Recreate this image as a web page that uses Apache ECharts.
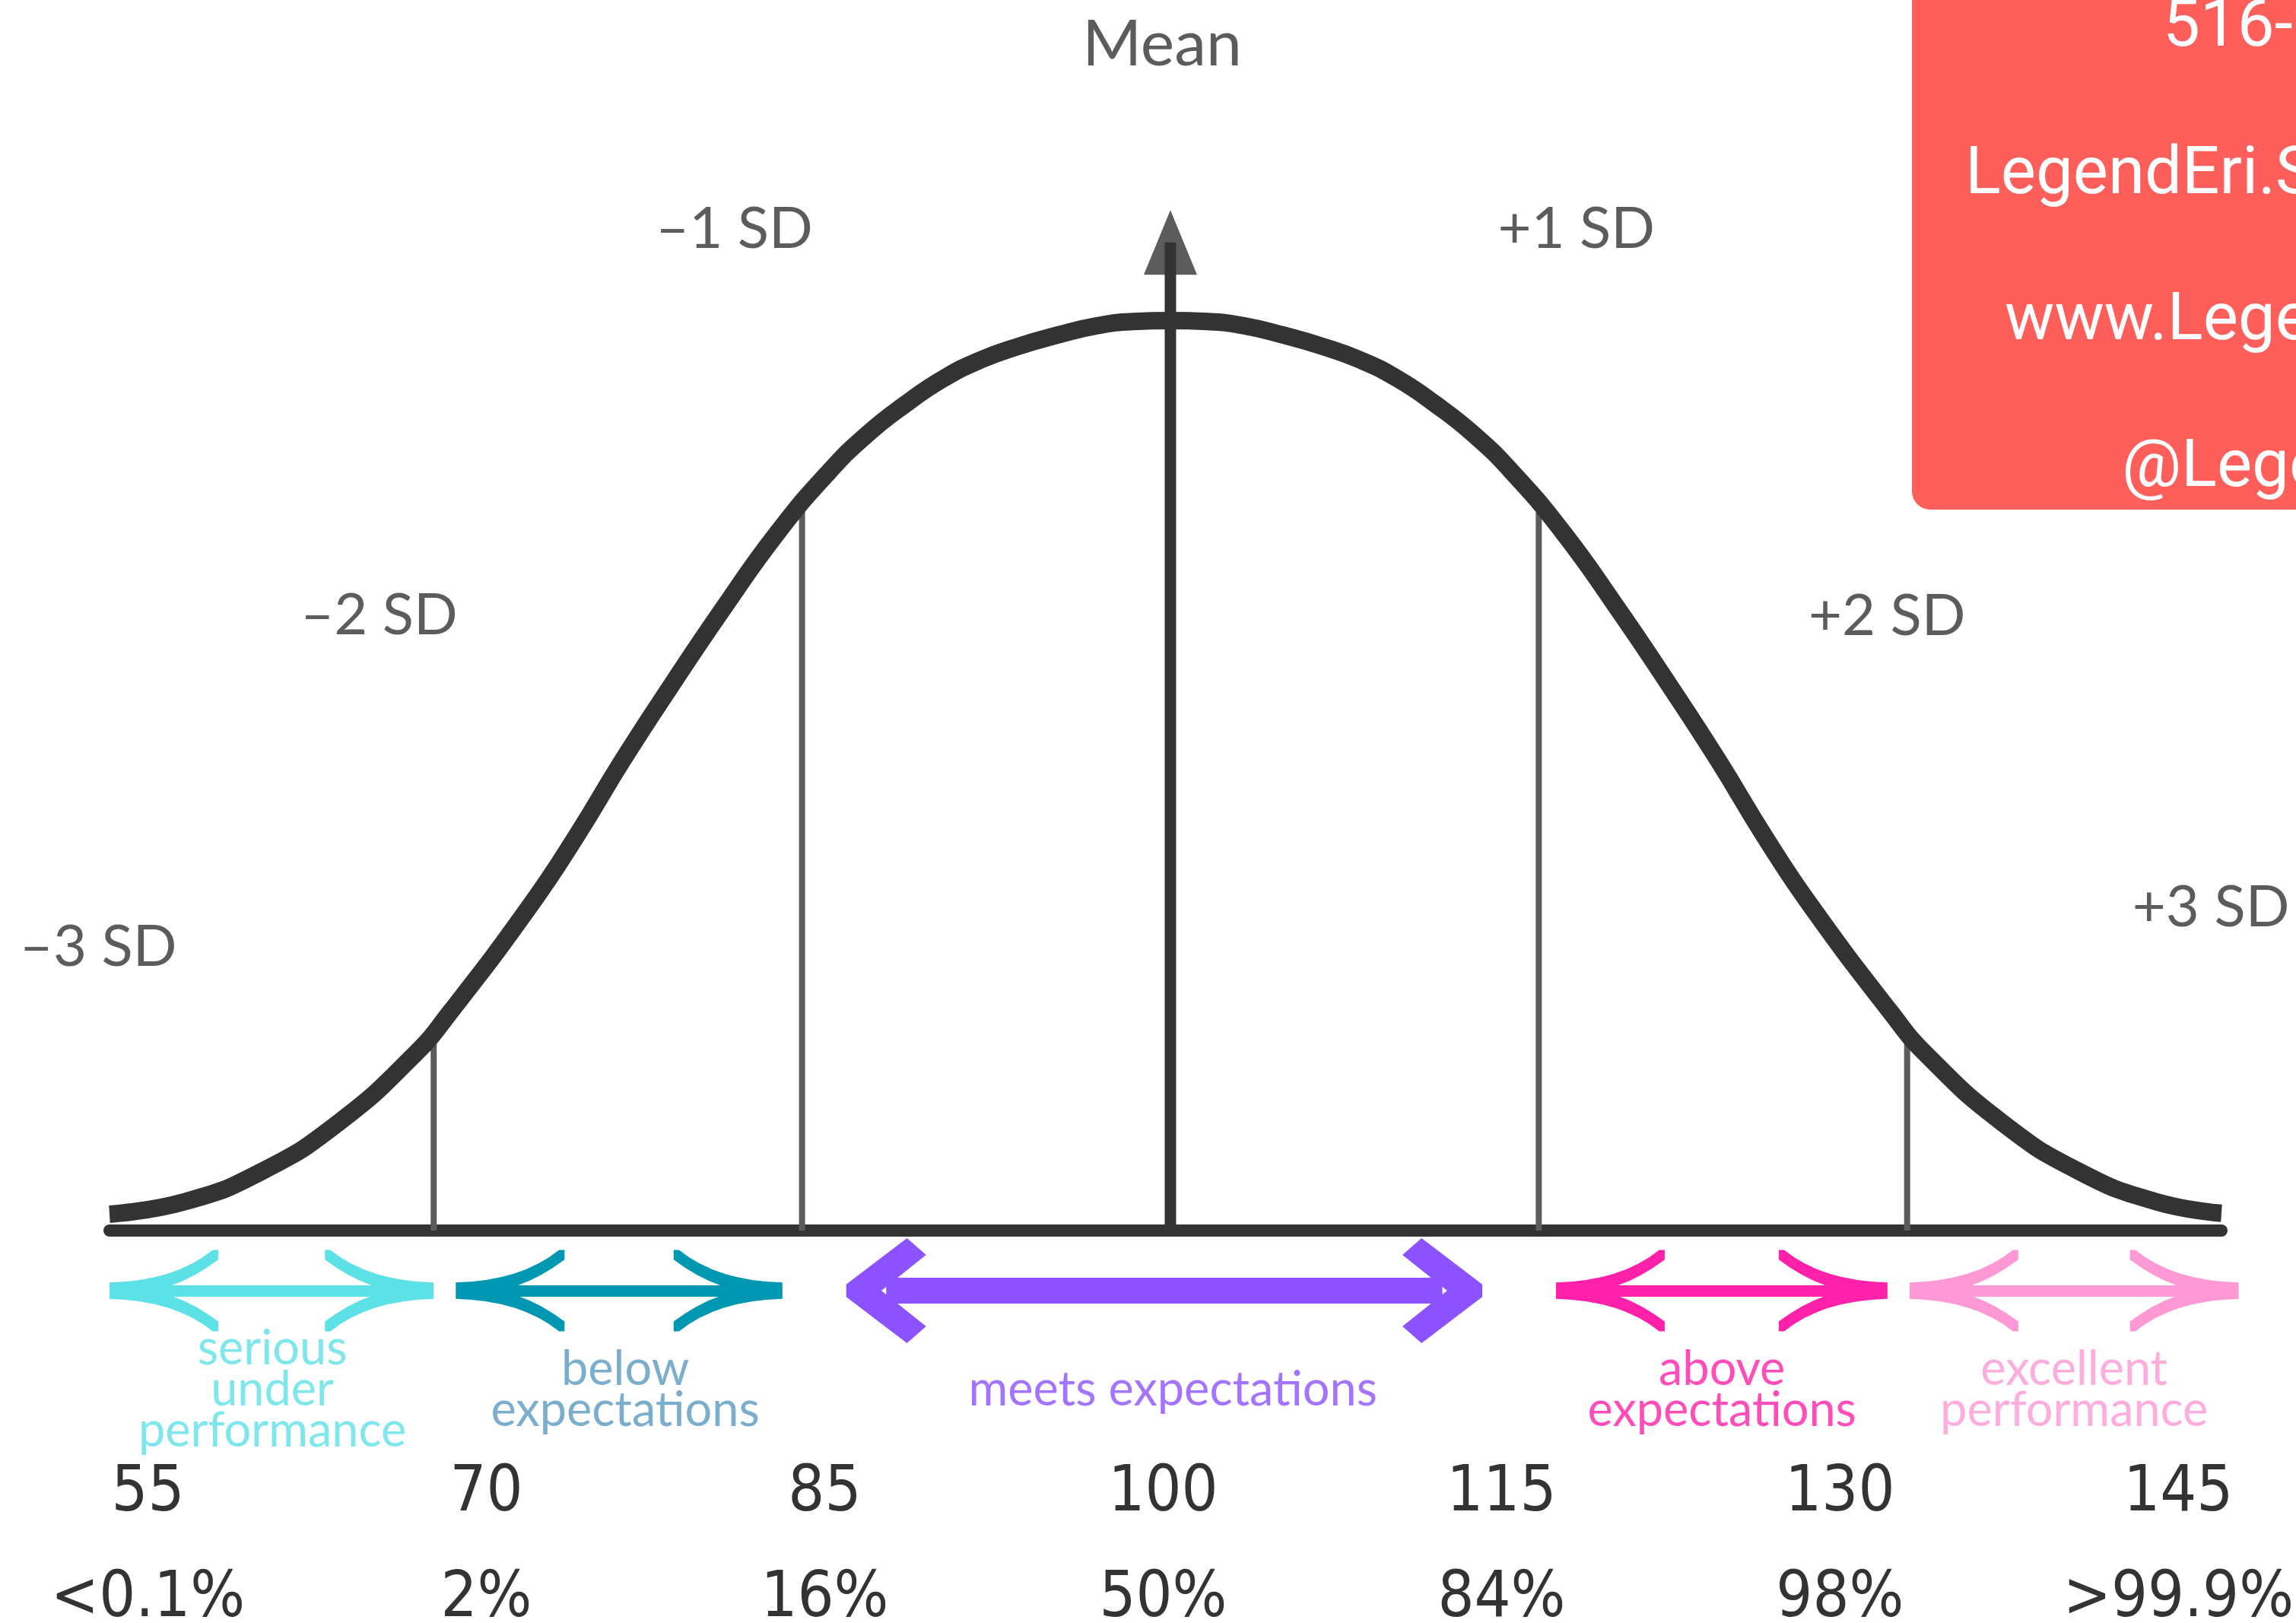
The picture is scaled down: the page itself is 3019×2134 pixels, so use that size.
<!DOCTYPE html>
<html>
<head>
<meta charset="utf-8">
<title>Bell curve – performance bands</title>
<script src="https://cdn.jsdelivr.net/npm/echarts@6.0.0/dist/echarts.min.js"></script>
<style>
  html, body { margin: 0; padding: 0; background: #fff; }
  #chart { width: 3019px; height: 2134px; }
</style>
</head>
<body>
<div id="chart"></div>
<script>
// bell curve: score -> height (% of the peak)
const curveX = [56.8, 59.9, 63.0, 66.1, 69.2, 70.7, 73.9, 75.8, 77.7, 79.7, 81.8, 84.0, 86.1, 87.65,
                89.2, 90.74, 92.29, 93.84, 95.39, 96.94, 98.48, 100,
                101.52, 103.06, 104.61, 106.16, 107.71, 109.26, 110.8, 112.35, 113.9, 116.0,
                118.2, 120.3, 122.3, 124.2, 126.1, 129.3, 130.8, 133.9, 137.0, 140.1, 142.8];
const curveY = [1.8, 3.2, 6.5, 11.8, 19.3, 24.1, 35.6, 43.3, 51.7, 60.0, 68.4, 76.7, 83.4, 87.5,
                90.8, 93.6, 95.7, 97.2, 98.4, 99.4, 99.9, 100,
                99.9, 99.4, 98.4, 97.2, 95.7, 93.6, 90.8, 87.5, 83.4, 76.7,
                68.4, 60.0, 51.7, 43.3, 35.6, 24.1, 19.3, 11.8, 6.5, 3.2, 1.9];

// standard deviation markers
const meanScore = 100;
const sdScores = [70, 85, 115, 130];
const sdHeights = [22, 80, 80, 22];
const sdLabels = ['–3 SD', '–2 SD', '–1 SD', '+1 SD', '+2 SD', '+3 SD'];

// rows under the chart
const scoreLabels = ['55', '70', '85', '100', '115', '130', '145'];
const percentLabels = ['<0.1%', '2%', '16%', '50%', '84%', '98%', '>99.9%'];

// performance bands, start / end on the score axis
const bandNames = ['serious\nunder\nperformance', 'below\nexpectations', 'meets expectations',
                   'above\nexpectations', 'excellent\nperformance'];
const bandStart = [56.8, 70.9, 86.8, 115.7, 130.1];
const bandEnd = [70.0, 84.2, 112.7, 129.2, 143.5];

const contactLines = ['516-2', 'LegendEri.S', 'www.Lege', '@Lege'];

// ---- styles / layout ----
const ink = '#333333';
const bandColors = ['#5ce1e6', '#0097b2', '#8c52ff', '#ff21a9', '#ff99d5'];
const bandTextColors = ['#5ce1e6', '#5a9abf', '#8c52ff', '#ff21a9', '#ff99d5'];
const bandWidths = [15, 15, 34, 15, 15];
const bandLabelX = [63.43, 77.8, 100.1, 122.46, 136.8];
const bandLabelY = -17.5;
const arrowY = -6.6;
const pxPerUnit = 32.29;
const sdLabelPos = [[56.34, 31.1], [67.78, 67.6], [82.24, 110], [116.53, 110], [129.18, 67.5], [142.37, 35.5]];
const meanLabelPos = [99.66, 130.3];
const meanArrowTop = 108.6;
const rowFont = '"Liberation Sans Narrow", "DejaVu Sans Condensed", "Liberation Sans", sans-serif';

// flared hand-drawn arrow head (points up; rotated by the lines series)
const hornHead = 'path://M40,0 L60,0 Q62,60 100,95 L100,100 L88,100 Q66,78 57,58 L43,58 Q34,78 12,100 L0,100 L0,95 Q38,60 40,0 Z';
const chevronHead = 'path://M44,0 L56,0 L100,76 L84,100 L50,44 L16,100 L0,76 Z';

const chart = echarts.init(document.getElementById('chart'));

const arrowSeries = bandNames.map((name, i) => {
  const big = i === 2;
  const size = big ? [138, 105] : [107, 143];
  const inset = size[1] / 2 / pxPerUnit;
  return {
    type: 'lines',
    coordinateSystem: 'cartesian2d',
    xAxisIndex: 0,
    yAxisIndex: 0,
    clip: false,
    silent: true,
    symbol: big ? [chevronHead, chevronHead] : [hornHead, hornHead],
    symbolSize: [size, size],
    lineStyle: { color: bandColors[i], width: bandWidths[i], opacity: 1, curveness: 0 },
    data: [{ coords: [[bandStart[i] + inset, arrowY], [bandEnd[i] - inset, arrowY]] }],
    z: 4
  };
});

const sdLineSeries = sdScores.map((x, i) => ({
  type: 'line',
  xAxisIndex: 0,
  yAxisIndex: 0,
  symbol: 'none',
  silent: true,
  lineStyle: { color: '#5c5c5c', width: 8 },
  data: [[x, 0], [x, sdHeights[i]]],
  z: 2
}));

const rowLabel = {
  interval: 0, margin: 72, verticalAlign: 'middle', color: ink, fontSize: 84, fontFamily: rowFont
};

const option = {
  animation: false,
  backgroundColor: '#ffffff',
  grid: [
    { left: 144, right: 98, top: 278, bottom: 516 },
    { left: 194.5, right: 150, top: 1890, bottom: 234 }
  ],
  xAxis: [
    {
      gridIndex: 0, type: 'value', min: 56.8, max: 142.8,
      axisLine: { show: true, onZero: true, lineStyle: { color: ink, width: 16 } },
      axisTick: { show: false }, axisLabel: { show: false }, splitLine: { show: false }
    },
    {
      gridIndex: 1, type: 'category', boundaryGap: false, data: scoreLabels, position: 'bottom',
      axisLine: { show: false }, axisTick: { show: false }, splitLine: { show: false },
      axisLabel: rowLabel
    },
    {
      gridIndex: 1, type: 'category', boundaryGap: false, data: percentLabels, position: 'bottom', offset: 139,
      axisLine: { show: false }, axisTick: { show: false }, splitLine: { show: false },
      axisLabel: rowLabel
    }
  ],
  yAxis: [
    { gridIndex: 0, type: 'value', min: 0, max: 112, show: false },
    { gridIndex: 1, type: 'value', min: 0, max: 1, show: false }
  ],
  series: [
    ...sdLineSeries,
    {
      name: 'curve',
      type: 'line',
      xAxisIndex: 0,
      yAxisIndex: 0,
      smooth: 0.5,
      symbol: 'none',
      silent: true,
      lineStyle: { color: ink, width: 23 },
      data: curveX.map((x, i) => [x, curveY[i]]),
      z: 5
    },
    {
      name: 'mean',
      type: 'line',
      xAxisIndex: 0,
      yAxisIndex: 0,
      symbol: 'none',
      silent: true,
      lineStyle: { color: ink, width: 15 },
      data: [[meanScore, 0], [meanScore, meanArrowTop]],
      z: 6
    },
    {
      name: 'mean arrow',
      type: 'scatter',
      xAxisIndex: 0,
      yAxisIndex: 0,
      clip: false,
      silent: true,
      symbol: 'triangle',
      symbolSize: [70, 85],
      itemStyle: { color: ink },
      data: [[meanScore, meanArrowTop]],
      z: 6
    },
    ...arrowSeries,
    {
      name: 'sd labels',
      type: 'scatter',
      xAxisIndex: 0,
      yAxisIndex: 0,
      clip: false,
      silent: true,
      symbolSize: 1,
      itemStyle: { color: 'transparent' },
      label: {
        show: true, position: 'inside', formatter: '{b}',
        color: ink, fontFamily: 'Lato, sans-serif', fontSize: 76
      },
      data: sdLabels.map((t, i) => ({ name: t, value: sdLabelPos[i] }))
        .concat([{ name: 'Mean', value: meanLabelPos, label: { fontSize: 84 } }]),
      z: 7
    },
    {
      name: 'band labels',
      type: 'scatter',
      xAxisIndex: 0,
      yAxisIndex: 0,
      clip: false,
      silent: true,
      symbolSize: 1,
      itemStyle: { color: 'transparent' },
      label: {
        show: true, position: 'inside', formatter: '{b}', align: 'center',
        fontFamily: 'Lato, sans-serif', fontSize: 63, lineHeight: 54
      },
      data: bandNames.map((t, i) => ({
        name: t,
        value: [bandLabelX[i], bandLabelY],
        label: { color: bandTextColors[i] }
      })),
      z: 7
    }
  ],
  graphic: [
    {
      type: 'rect',
      shape: { x: 2514, y: -40, width: 560, height: 710, r: [0, 0, 0, 24] },
      style: { fill: '#ff5f5b' },
      z: 100
    },
    ...contactLines.map((t, i) => ({
      type: 'text',
      x: [2844, 2584, 2636, 2790][i],
      y: [38, 232, 424, 617][i],
      style: {
        text: t, fill: '#ffffff', font: '87px Roboto',
        textVerticalAlign: 'middle', verticalAlign: 'middle'
      },
      z: 101
    }))
  ]
};

chart.setOption(option);
</script>
</body>
</html>
